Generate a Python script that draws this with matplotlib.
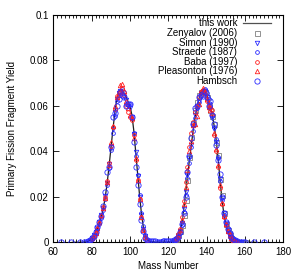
import matplotlib
matplotlib.use("Agg")
import matplotlib.pyplot as plt
from matplotlib.ticker import MultipleLocator

plt.rcParams['font.family'] = ['Liberation Sans', 'DejaVu Sans']

# this work (line)
work_a = list(range(70, 167))
work_y = [0, 0, 0, 0, 0.00001, 0.00003, 0.0001, 0.0002, 0.0004, 0.0009,
          0.0017, 0.0028, 0.0042, 0.0062, 0.0085, 0.0112, 0.0145, 0.0195, 0.0255, 0.0330,
          0.0410, 0.0490, 0.0565, 0.0625, 0.0660, 0.0672, 0.0668, 0.0655, 0.0638, 0.0618,
          0.0598, 0.0560, 0.0490, 0.0395, 0.0300, 0.0205, 0.0125, 0.0065, 0.0030, 0.0012,
          0.0005, 0.0003, 0.0002, 0.0001, 0.0001, 0.0001, 0.0001, 0.0001, 0.0001, 0.0001,
          0.0001, 0.0002, 0.0003, 0.0007, 0.0013, 0.0025, 0.0045, 0.0080, 0.0140, 0.0215,
          0.0290, 0.0360, 0.0425, 0.0495, 0.0550, 0.0595, 0.0630, 0.0660, 0.0672, 0.0668,
          0.0650, 0.0622, 0.0590, 0.0558, 0.0510, 0.0450, 0.0370, 0.0275, 0.0190, 0.0125,
          0.0082, 0.0052, 0.0032, 0.0019, 0.0011, 0.0006, 0.0003, 0.0002, 0.0001, 0,
          0, 0, 0, 0, 0, 0, 0]

zen_a = list(range(122, 161))
zen_y = [0.0003, 0.0006, 0.0013, 0.0030, 0.0050, 0.0075, 0.0120, 0.0185, 0.0275, 0.0375,
         0.0465, 0.0525, 0.0580, 0.0615, 0.0650, 0.0660, 0.0665, 0.0660, 0.0640, 0.0605,
         0.0580, 0.0555, 0.0520, 0.0440, 0.0385, 0.0280, 0.0210, 0.0130, 0.0080, 0.0055,
         0.0030, 0.0018, 0.0012, 0.0006, 0.0003, 0.0002, 0.0001, 0.0, 0.0]

simon_a = list(range(80, 109)) + list(range(124, 156))
simon_y = [0.0020, 0.0030, 0.0045, 0.0065, 0.0090, 0.0120, 0.0150, 0.0205, 0.0260, 0.0345,
           0.0420, 0.0500, 0.0575, 0.0630, 0.0655, 0.0665, 0.0660, 0.0640, 0.0625, 0.0600,
           0.0590, 0.0550, 0.0475, 0.0395, 0.0290, 0.0200, 0.0120, 0.0060, 0.0028,
           0.0015, 0.0028, 0.0048, 0.0085, 0.0145, 0.0220, 0.0295, 0.0370, 0.0430, 0.0510,
           0.0560, 0.0600, 0.0620, 0.0655, 0.0660, 0.0665, 0.0640, 0.0610, 0.0585, 0.0545,
           0.0500, 0.0440, 0.0365, 0.0280, 0.0195, 0.0130, 0.0085, 0.0055, 0.0035, 0.0020,
           0.0012, 0.0006]

straede_a = list(range(78, 111)) + list(range(122, 159))
straede_y = [0.0004, 0.0010, 0.0016, 0.0026, 0.0040, 0.0060, 0.0082, 0.0108, 0.0140, 0.0190,
             0.0250, 0.0325, 0.0405, 0.0480, 0.0555, 0.0620, 0.0650, 0.0660, 0.0675, 0.0660,
             0.0610, 0.0605, 0.0610, 0.0545, 0.0480, 0.0380, 0.0295, 0.0210, 0.0130, 0.0070,
             0.0032, 0.0012, 0.0005,
             0.0003, 0.0008, 0.0012, 0.0022, 0.0042, 0.0078, 0.0135, 0.0210, 0.0285, 0.0350,
             0.0420, 0.0490, 0.0545, 0.0590, 0.0615, 0.0650, 0.0665, 0.0675, 0.0655, 0.0630,
             0.0600, 0.0560, 0.0505, 0.0455, 0.0375, 0.0270, 0.0185, 0.0120, 0.0080, 0.0050,
             0.0030, 0.0018, 0.0010, 0.0005, 0.0003, 0.0001, 0.0001]

baba_a = list(range(80, 110)) + list(range(124, 157))
baba_y = [0.0015, 0.0025, 0.0040, 0.0060, 0.0085, 0.0115, 0.0155, 0.0200, 0.0270, 0.0350,
          0.0425, 0.0505, 0.0585, 0.0645, 0.0655, 0.0660, 0.0680, 0.0650, 0.0600, 0.0575,
          0.0550, 0.0540, 0.0470, 0.0360, 0.0275, 0.0190, 0.0110, 0.0055, 0.0025, 0.0010,
          0.0018, 0.0035, 0.0060, 0.0110, 0.0180, 0.0265, 0.0330, 0.0420, 0.0480, 0.0530,
          0.0575, 0.0600, 0.0640, 0.0660, 0.0670, 0.0650, 0.0620, 0.0600, 0.0590, 0.0580,
          0.0470, 0.0400, 0.0330, 0.0240, 0.0170, 0.0110, 0.0075, 0.0048, 0.0030, 0.0018,
          0.0010, 0.0006, 0.0003]

pleas_a = list(range(80, 109)) + list(range(124, 157))
pleas_y = [0.0018, 0.0030, 0.0042, 0.0063, 0.0088, 0.0120, 0.0150, 0.0195, 0.0265, 0.0340,
           0.0440, 0.0510, 0.0600, 0.0640, 0.0650, 0.0690, 0.0695, 0.0665, 0.0620, 0.0590,
           0.0560, 0.0545, 0.0460, 0.0370, 0.0275, 0.0190, 0.0110, 0.0055, 0.0025,
           0.0015, 0.0030, 0.0055, 0.0100, 0.0170, 0.0245, 0.0320, 0.0400, 0.0445, 0.0515,
           0.0520, 0.0555, 0.0610, 0.0665, 0.0680, 0.0660, 0.0630, 0.0595, 0.0580, 0.0570,
           0.0480, 0.0410, 0.0340, 0.0250, 0.0175, 0.0115, 0.0080, 0.0050, 0.0030, 0.0018,
           0.0010, 0.0005, 0.0003]

hamb_a = [64, 69, 74] + list(range(76, 161)) + [165, 170]
hamb_y = [0, 0, 0.00002,
          0.0001, 0.0002, 0.0005, 0.0010, 0.0018, 0.0028, 0.0045, 0.0068, 0.0090, 0.0115,
          0.0160, 0.0220, 0.0310, 0.0330, 0.0420, 0.0550, 0.0570, 0.0600, 0.0630, 0.0660,
          0.0650, 0.0640, 0.0600, 0.0610, 0.0610, 0.0550, 0.0440, 0.0330, 0.0250, 0.0170,
          0.0100, 0.0050, 0.0020, 0.0010, 0.0006, 0.0005, 0.0004, 0.0004, 0.0003, 0.0003,
          0.0003, 0.0004, 0.0004, 0.0005, 0.0005, 0.0004, 0.0005, 0.0008, 0.0014, 0.0025,
          0.0045, 0.0080, 0.0130, 0.0200, 0.0310, 0.0380, 0.0460, 0.0520, 0.0590, 0.0600,
          0.0640, 0.0650, 0.0645, 0.0665, 0.0640, 0.0600, 0.0620, 0.0560, 0.0520, 0.0430,
          0.0360, 0.0300, 0.0200, 0.0130, 0.0090, 0.0060, 0.0040, 0.0025, 0.0014, 0.0008,
          0.0004, 0.0002, 0.0001, 0.0001, 0.0,
          0, 0]

yticks = [0, 0.02, 0.04, 0.06, 0.08, 0.1]
ylabels = ['0', '0.02', '0.04', '0.06', '0.08', '0.1']
xticks = [60, 80, 100, 120, 140, 160, 180]

blue = '#2a2aff'
red = '#ff2020'
gray = '#808080'

# label, x, y, marker, color, size
sets = [
    ('Zenyalov (2006)', zen_a, zen_y, 's', gray, 3.6),
    ('Simon (1990)', simon_a, simon_y, 'v', blue, 3.2),
    ('Straede (1987)', straede_a, straede_y, 'o', blue, 2.7),
    ('Baba (1997)', baba_a, baba_y, 'o', red, 2.7),
    ('Pleasonton (1976)', pleas_a, pleas_y, '^', red, 3.2),
    ('Hambsch', hamb_a, hamb_y, 'o', blue, 3.8),
]

fig = plt.figure(figsize=(3.0, 2.79), dpi=100)
ax = fig.add_axes([0.178, 0.1315, 0.766, 0.815])

ax.plot(work_a, work_y, color='#202020', lw=0.9, zorder=2)
for lab, xs, ys, mk, col, ms in sets:
    ax.plot(xs, ys, ls='none', marker=mk, ms=ms, mfc='none', mec=col, mew=0.6, zorder=3)

ax.set_xlim(60, 180)
ax.set_ylim(0, 0.1)
ax.set_xticks(xticks)
ax.xaxis.set_minor_locator(MultipleLocator(2))
ax.set_yticks(yticks)
ax.set_yticklabels(ylabels)
ax.tick_params(which='both', direction='in', top=True, right=True, labelsize=7, width=0.6)
ax.tick_params(which='major', length=4)
ax.tick_params(which='minor', length=2)
for s in ax.spines.values():
    s.set_linewidth(0.8)
ax.set_xlabel('Mass Number', fontsize=7, labelpad=3)
ax.set_ylabel('Primary Fission Fragment Yield', fontsize=7, labelpad=9)

# legend drawn gnuplot style: text right aligned, sample on the right
ty = 0.963
dy = 0.0422
tx = 0.799
ax.text(tx, ty, 'this work', transform=ax.transAxes, ha='right', va='center', fontsize=7)
ax.plot([0.823, 0.945], [ty, ty], transform=ax.transAxes, color='#505050', lw=0.9, clip_on=False)
for i, (lab, xs, ys, mk, col, ms) in enumerate(sets):
    yy = ty - (i + 1) * dy
    ax.text(tx, yy, lab, transform=ax.transAxes, ha='right', va='center', fontsize=7)
    ax.plot([0.884], [yy], transform=ax.transAxes, marker=mk, ms=ms, mfc='none', mec=col,
            mew=0.6, ls='none', clip_on=False)

fig.savefig('out.png', dpi=100)
